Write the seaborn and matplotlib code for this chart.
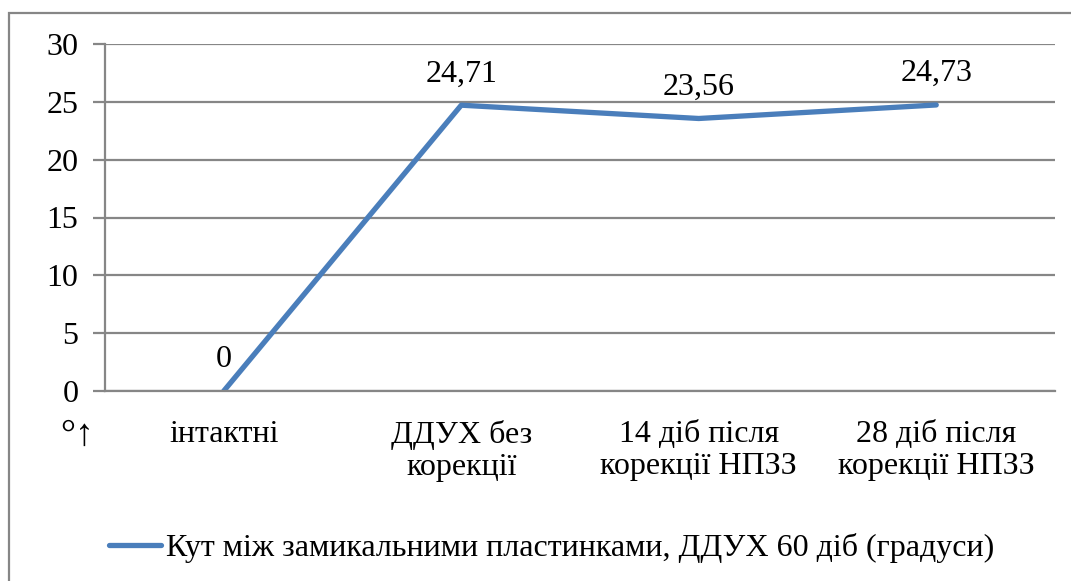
import matplotlib
matplotlib.use("Agg")
import matplotlib.pyplot as plt
from matplotlib.patches import Rectangle
import seaborn as sns
import pandas as pd

categories = ["інтактні", "ДДУХ без\nкорекції", "14 діб після\nкорекції НПЗЗ", "28 діб після\nкорекції НПЗЗ"]
values = [0, 24.71, 23.56, 24.73]
value_labels = ["0", "24,71", "23,56", "24,73"]
series_name = "Кут між замикальними пластинками, ДДУХ 60 діб (градуси)"
y_ticks = [0, 5, 10, 15, 20, 25, 30]

sns.set_theme(style="white")
plt.rcParams["font.family"] = ["Liberation Serif", "DejaVu Serif"]
plt.rcParams["font.size"] = 23
plt.rcParams["text.color"] = "black"
plt.rcParams["xtick.color"] = "black"
plt.rcParams["ytick.color"] = "black"

FS = 23
grid_color = "#868686"
line_color = "#4A7EBB"

fig = plt.figure(figsize=(10.71, 5.81), dpi=100)
ax = fig.add_axes([105 / 1071, 1 - 391 / 581, 950 / 1071, 347 / 581])

df = pd.DataFrame({"pos": range(len(categories)), "value": values, "series": series_name})
sns.lineplot(data=df, x="pos", y="value", hue="series", palette=[line_color],
             linewidth=3.8, ax=ax, legend=False, solid_capstyle="round")

ax.set_xlim(-0.5, len(categories) - 0.5)
ax.set_ylim(0, 30)
ax.set_yticks(y_ticks)
ax.set_yticklabels([str(t) for t in y_ticks])
ax.yaxis.grid(True, color=grid_color, linewidth=1.6)
ax.set_axisbelow(True)

# category labels centred, tick marks at category boundaries
ax.set_xticks(range(len(categories)))
ax.set_xticklabels(categories, linespacing=1.12)
ax.tick_params(axis="x", which="major", length=0, pad=21, labelsize=FS, labelcolor="black")
ax.set_xticks([i - 0.5 for i in range(len(categories) + 1)], minor=True)
ax.tick_params(axis="x", which="minor", length=8, width=1.6, color=grid_color, direction="out")
ax.tick_params(axis="y", which="major", length=9, width=1.6, color=grid_color,
               direction="out", pad=10, labelsize=FS, labelcolor="black", left=True)

for side in ["top", "right"]:
    ax.spines[side].set_visible(False)
for side in ["left", "bottom"]:
    ax.spines[side].set_color(grid_color)
    ax.spines[side].set_linewidth(1.6)

ax.set_xlabel("")
ax.set_ylabel("")

for i, (v, lab) in enumerate(zip(values, value_labels)):
    ax.annotate(lab, (i, v), xytext=(0, 12), textcoords="offset points",
                ha="center", va="bottom", fontsize=FS, color="black")

fig.text(60 / 1071, 1 - 436 / 581, "°↑", ha="left", va="center", fontsize=27,
         color="black", family=["Liberation Serif", "DejaVu Sans"])

# legend below the plot
handle = plt.Line2D([], [], color=line_color, linewidth=3.8, solid_capstyle="round")
fig.legend([handle], [series_name], loc="center left",
           bbox_to_anchor=(80 / 1071, 1 - 548 / 581), frameon=False,
           handlelength=1.65, handletextpad=0.15, fontsize=FS, labelcolor="black")

# chart area border
fig.patches.append(Rectangle((9 / 1071, -0.05), 1.1, 1 - 13 / 581 + 0.05,
                             transform=fig.transFigure, fill=False,
                             edgecolor=grid_color, linewidth=1.6))

fig.savefig("out.png", dpi=100)
